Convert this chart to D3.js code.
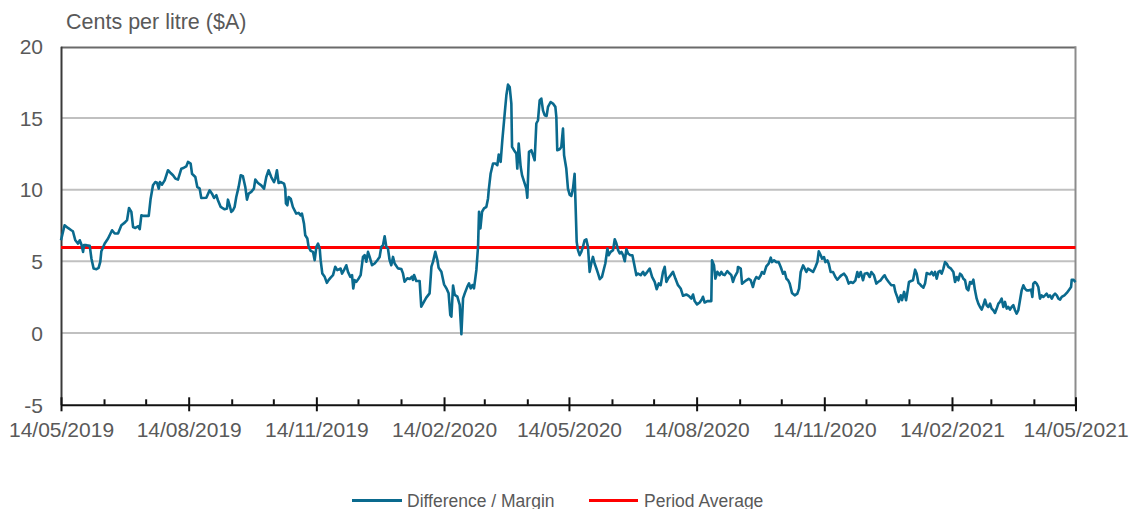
<!DOCTYPE html>
<html><head><meta charset="utf-8">
<script src="https://cdn.jsdelivr.net/npm/d3@7"></script>
<style>body{margin:0;background:#fff}svg{display:block}text{font-family:"Liberation Sans",Arial,sans-serif}</style>
</head><body>
<svg id="chart" width="1132" height="509"></svg>
<script>
// ---- data ----
const startDate = "2019-05-14";
const endDate = "2021-05-14";
const yTicks = [-5, 0, 5, 10, 15, 20];
const gridValues = [0, 5, 10, 15];
const periodAverage = 5.97;
const seriesNames = ["Difference / Margin", "Period Average"];
const yTitle = "Cents per litre ($A)";
// [days since 14/05/2019, cents per litre]
const marginPoints = [
[0,6.47],[2.6,7.52],[5.0,7.33],[7.4,7.17],[8.6,7.10],[10.3,6.47],[12.3,6.24],[13.5,6.47],[14.7,6.17],[15.9,5.66],
[16.6,6.13],[18.3,6.13],[20.7,6.08],[21.9,5.20],[23.5,4.50],[25.5,4.45],[27.1,4.55],[28.3,4.97],[29.1,5.71],[31.5,6.24],
[33.9,6.59],[36.8,7.17],[38.7,6.94],[41.1,6.94],[43.5,7.52],[45.9,7.70],[47.6,7.87],[49.0,8.72],[50.7,8.45],[51.9,7.40],
[53.6,7.33],[55.5,7.45],[56.7,7.24],[57.9,8.21],[59.6,8.17],[63.2,8.17],[64.6,9.37],[66.3,10.30],[68.0,10.53],[69.2,10.49],
[70.4,10.07],[71.3,10.53],[72.8,10.35],[74.7,10.65],[77.1,11.35],[78.8,11.18],[80.7,11.00],[82.4,10.77],[84.3,10.70],[86.7,11.46],
[88.6,11.53],[90.3,11.62],[91.5,11.93],[93.4,11.81],[94.4,11.11],[96.8,10.88],[98.2,10.19],[99.9,10.07],[101.1,9.42],[104.7,9.44],
[107.1,9.95],[108.8,9.72],[110.3,9.42],[111.9,9.61],[113.1,9.26],[115.1,8.79],[117.9,8.63],[119.6,8.68],
[120.3,9.30],[121.5,8.91],[122.7,8.45],[123.9,8.56],[125.1,8.79],[126.3,9.49],[128.0,10.19],[129.5,11.00],[131.1,10.93],[132.8,10.19],
[134.0,9.30],[135.2,9.72],[137.1,9.84],[139.0,10.07],[140.0,10.70],[141.9,10.46],[144.3,10.30],[146.3,10.07],[147.9,10.88],[149.6,11.35],
[151.5,10.88],[153.5,10.53],[154.4,10.77],[155.6,11.35],[156.8,10.46],[158.3,10.53],[160.7,10.42],[161.6,10.07],[162.1,9.03],[163.1,8.91],
[164.0,9.49],[165.5,9.37],[167.1,8.79],[169.5,8.33],[171.2,8.38],[172.7,8.21],[173.6,8.33],[175.1,7.63],[176.0,6.82],[177.5,6.59],
[178.4,6.01],[179.9,5.73],[181.6,5.66],[182.8,5.08],[184.0,6.01],[185.2,6.24],[186.4,5.89],[187.1,5.08],[188.3,4.15],[190.0,3.92],
[191.6,3.50],[192.8,3.69],[194.3,3.87],[196.0,4.04],[197.6,4.62],[199.1,4.39],[201.5,4.50],[202.5,4.15],[203.9,4.39],[205.6,4.73],
[206.8,4.27],[208.5,3.92],[209.7,4.04],[210.6,3.11],[211.6,3.69],[212.8,3.57],[214.5,3.81],[215.9,4.04],[217.6,5.31],[218.8,5.43],
[220.0,4.97],[221.2,5.66],[222.4,5.31],[224.1,4.73],[226.0,4.85],[227.9,5.08],[229.6,5.31],[230.8,6.01],[232.0,6.13],[233.2,6.75],
[234.4,6.01],[235.6,5.89],[236.8,5.08],[238.0,4.73],[239.2,5.31],[240.4,4.85],
[242.8,4.51],[245.2,4.47],[246.4,4.16],[247.6,3.58],[249.6,3.82],[251.2,3.77],[252.9,3.93],[253.6,3.70],[254.4,4.05],[256.0,3.63],
[258.4,3.63],[259.6,1.84],[261.6,2.19],[263.2,2.47],[265.6,2.77],[266.9,4.63],[268.1,4.98],[269.7,5.67],[271.2,5.09],[272.1,4.56],
[274.1,4.28],[276.0,3.40],[277.7,3.12],[279.3,2.77],[280.5,1.26],[281.3,1.15],[282.5,3.31],[283.7,2.66],[285.6,2.54],[287.3,1.96],
[288.5,-0.08],[289.7,2.42],[290.9,2.77],[292.8,3.24],[294.0,3.47],[295.2,3.12],[296.4,3.35],[297.6,3.12],[299.3,4.40],[300.5,6.02],
[301.2,8.46],[302.2,7.30],[303.4,8.46],[304.8,8.69],[306.5,8.80],[307.7,9.39],[308.2,9.97],[309.6,11.13],[311.3,11.82],[313.0,11.82],
[314.4,11.71],[315.4,12.45],[316.8,11.94],[318.0,13.45],[319.7,15.30],[320.9,16.58],[322.1,17.32],[323.3,17.16],[324.5,16.00],[325.0,12.98],
[326.4,12.75],[328.1,12.52],[328.8,11.47],[329.8,13.21],[331.2,11.59],[332.2,11.01],[334.1,10.43],[335.3,10.08],[336.0,9.43],[337.2,12.63],
[338.9,12.75],[340.1,12.40],[341.3,12.05],[342.5,14.61],[343.7,14.84],[344.9,16.23],[346.1,16.35],[347.3,15.53],[348.5,15.19],[349.9,15.14],
[350.9,15.77],[352.8,16.11],[354.5,16.00],[356.2,15.77],[356.9,15.07],[357.6,12.75],[359.3,12.82],[360.5,12.98],[361.7,14.26],[362.5,12.40],
[364.1,11.47],
[365.3,10.07],[366.5,9.65],[367.7,9.56],[368.9,10.07],[370.1,11.10],[371.6,6.36],[372.5,5.78],[373.7,5.43],[374.9,5.66],[376.1,6.01],
[377.3,6.47],[378.5,6.54],[379.7,6.01],[380.9,4.27],[382.1,4.85],[383.3,5.31],[384.5,4.85],[385.8,4.50],[387.0,4.15],[388.2,3.76],
[389.8,3.92],[391.3,4.50],[392.2,4.85],[393.7,5.89],[394.6,5.43],[396.1,5.66],[397.8,5.78],[399.0,6.54],[400.2,6.24],[401.4,5.78],
[402.6,5.55],[403.8,5.66],[405.0,5.43],[406.2,5.01],[407.4,5.85],[408.6,5.55],[410.3,5.43],[411.7,5.43],[412.9,4.85],[414.6,4.04],
[415.8,4.15],[417.7,4.04],[419.4,4.27],[420.6,4.04],[422.5,4.27],[424.2,4.50],[425.9,3.92],[427.8,3.57],[429.2,3.06],[430.7,3.46],
[432.1,3.34],[433.8,4.27],[435.0,4.62],[436.2,3.57],[437.4,3.80],[439.3,4.04],[441.0,4.27],[442.7,3.80],[444.6,3.34],[446.5,3.11],
[448.2,2.60],[450.6,2.69],[452.3,2.60],[454.2,2.41],[455.4,2.69],[456.6,2.23],[458.3,2.00],[460.2,2.13],[461.9,2.37],[462.6,2.53],
[463.8,2.13],[465.7,2.23],[468.6,2.23],[469.1,5.08],[470.5,4.73],[471.5,3.80],[472.9,4.27],[474.6,4.04],[475.8,4.27],[477.0,4.08],
[478.2,4.04],[480.1,4.32],[481.8,4.15],[483.0,4.04],[484.2,3.57],[485.4,3.92],[487.4,4.27],
[487.8,4.61],[489.8,4.49],[490.7,3.45],[492.2,3.56],[493.8,3.68],[495.5,3.79],[497.0,3.68],[498.6,3.21],[499.8,3.68],[501.0,3.91],
[502.7,3.79],[504.2,4.03],[505.1,4.26],[506.6,4.14],[508.2,4.65],[509.9,4.84],[511.4,5.26],[512.3,4.95],[513.8,5.07],[515.5,4.95],
[517.1,4.95],[518.6,4.61],[520.3,4.14],[521.5,4.26],[522.7,3.79],[523.9,3.68],[525.1,3.45],[526.7,2.80],[528.7,2.63],[530.6,2.75],
[531.8,3.10],[533.0,4.26],[534.7,4.72],[535.9,4.49],[537.1,4.26],[538.3,4.49],[540.2,4.37],[541.9,4.26],[543.6,4.61],[545.0,4.95],
[546.0,5.70],[547.4,5.42],[548.4,5.19],[549.8,5.30],[550.8,4.95],[552.2,5.07],[553.2,4.84],[554.6,4.26],[556.3,4.26],[558.0,3.91],
[559.4,3.72],[561.1,3.91],[562.3,4.03],[564.2,4.14],[565.9,3.91],[567.6,3.45],[569.0,3.56],[570.7,3.49],[572.4,3.68],[573.8,4.26],
[574.8,3.91],[576.2,4.26],[577.9,3.68],[579.1,4.14],[581.0,4.19],[582.7,3.91],[583.9,4.26],[585.8,4.03],[587.5,3.45],[588.7,3.56],
[590.6,3.68],[592.3,3.91],[593.5,4.03],[594.7,3.79],[596.4,3.56],[598.3,3.33],[600.2,3.33],[601.2,2.87],[602.6,2.52],[603.6,2.17],
[605.1,2.63],[606.0,2.29],[607.5,2.87],
[608.9,2.29],[610.1,2.98],[611.0,3.56],[612.5,3.63],[613.9,3.68],[615.4,4.42],[616.6,4.14],[617.8,3.49],[619.0,3.40],[620.2,3.26],
[621.4,3.17],[622.6,3.45],[623.8,4.19],[625.0,4.14],[626.2,4.10],[627.4,4.26],[628.6,4.03],[629.8,4.26],[631.0,3.79],[632.2,4.26],
[633.4,4.33],[634.6,4.14],[635.8,4.49],[637.0,4.95],[638.2,4.84],[639.4,4.61],[641.3,4.49],[643.0,4.26],[644.2,3.56],[645.4,3.91],
[646.6,3.68],[647.8,4.14],[649.0,4.03],[650.2,3.79],[651.4,3.68],[652.6,3.10],[653.8,2.98],[655.0,3.56],[656.2,3.45],[657.4,3.72],
[658.6,2.98],[659.8,2.40],[661.0,2.05],[662.2,1.82],[663.4,1.64],[664.6,1.94],[665.8,2.33],[667.0,1.94],[668.2,1.82],[669.4,2.05],
[670.6,1.71],[671.8,1.59],[673.0,1.40],[674.2,1.71],[675.4,2.05],[676.6,2.17],[677.8,2.40],[679.0,1.82],[680.2,2.17],[681.4,1.71],
[682.6,1.82],[683.8,1.64],[685.0,1.82],[686.2,1.94],[687.4,1.59],[688.6,1.36],[689.8,1.59],[691.0,2.29],[692.2,2.98],[693.4,3.33],
[694.6,3.10],[695.8,2.98],[697.5,2.98],[699.0,3.03],[699.9,2.52],[700.6,3.45],[701.8,3.56],[703.0,3.45],[704.2,3.21],[705.4,2.40],
[706.6,2.63],[707.8,2.52],[709.0,2.63],[710.2,2.75],[711.4,2.52],[712.6,2.63],[713.9,2.40],[715.1,2.63],[716.3,2.75],[717.5,2.63],
[718.7,2.40],[719.9,2.33],[721.1,2.52],[723.0,2.63],[724.7,2.80],[726.3,3.01],[727.8,3.21],[728.3,3.72],[729.5,3.72],[731.0,3.56]
];

// ---- chart ----
const svg = d3.select("#chart");
const parse = d3.timeParse("%Y-%m-%d");
const t0 = parse(startDate), t1 = parse(endDate);
const L = 61, R = 1075.5, T = 46.2, B = 404.8;
const x = d3.scaleTime().domain([t0, t1]).range([L, R]);
const y = d3.scaleLinear().domain([-5, 20]).range([B, T]);
const textCol = "#595959";

const majorTicks = d3.range(0, 25, 3).map(m => d3.timeMonth.offset(t0, m));
const minorTicks = d3.range(0, 25).filter(m => m % 3 !== 0).map(m => d3.timeMonth.offset(t0, m));

// gridlines
svg.append("g").selectAll("line").data(gridValues).join("line")
  .attr("x1", L).attr("x2", R).attr("y1", d => y(d)).attr("y2", d => y(d))
  .attr("stroke", "#c0c0c0").attr("stroke-width", 2);

// top & right border
svg.append("line").attr("x1", L).attr("x2", R).attr("y1", T + 1.3).attr("y2", T + 1.3)
  .attr("stroke", "#6a6a6a").attr("stroke-width", 2);
svg.append("line").attr("x1", R).attr("x2", R).attr("y1", T).attr("y2", B)
  .attr("stroke", "#8c8c8c").attr("stroke-width", 2);

// y axis
const yAxis = svg.append("g").attr("transform", `translate(${L},0)`)
  .call(d3.axisLeft(y).tickValues(yTicks).tickSize(0).tickSizeOuter(0).tickPadding(18).tickFormat(d3.format("d")));
yAxis.select(".domain").attr("stroke", "#3a3a3a").attr("stroke-width", 2);
yAxis.selectAll("text").attr("fill", textCol).style("font-size", "21px")
  .attr("dy", "0.35em").text(d => d < 0 ? "-" + Math.abs(d) : d);

// x axis minor ticks (inward)
const xMinor = svg.append("g").attr("transform", `translate(0,${B})`)
  .call(d3.axisBottom(x).tickValues(minorTicks).tickSize(-5.5).tickSizeOuter(0).tickFormat(""));
xMinor.select(".domain").remove();
xMinor.selectAll("line").attr("stroke", "#111").attr("stroke-width", 2);

// x axis major ticks (crossing)
const xMajor = svg.append("g").attr("transform", `translate(0,${B})`)
  .call(d3.axisBottom(x).tickValues(majorTicks).tickSize(6.5).tickSizeOuter(0).tickFormat(d3.timeFormat("%d/%m/%Y")));
xMajor.select(".domain").attr("stroke", "#111").attr("stroke-width", 2);
xMajor.selectAll(".tick line").attr("y1", -7.5).attr("stroke", "#111").attr("stroke-width", 2);
xMajor.selectAll("text").attr("fill", textCol).style("font-size", "21px")
  .attr("y", 32).attr("dy", 0);

// period average
svg.append("line").attr("x1", L).attr("x2", R).attr("y1", y(periodAverage)).attr("y2", y(periodAverage))
  .attr("stroke", "#ff0000").attr("stroke-width", 3);

// margin line
const line = d3.line()
  .x(d => x(d3.timeHour.offset(t0, Math.round(d[0] * 24))))
  .y(d => y(d[1]));
svg.append("path").datum(marginPoints).attr("d", line)
  .attr("fill", "none").attr("stroke", "#0a6a8e").attr("stroke-width", 2.6)
  .attr("stroke-linejoin", "round");

// y title
svg.append("text").attr("x", 66).attr("y", 29).attr("fill", textCol)
  .style("font-size", "21.5px").text(yTitle);

// legend
const legend = [
  {name: seriesNames[0], color: "#0a6a8e", x1: 352, x2: 402, tx: 407},
  {name: seriesNames[1], color: "#ff0000", x1: 589, x2: 638, tx: 644}
];
const lg = svg.append("g");
lg.selectAll("line").data(legend).join("line")
  .attr("x1", d => d.x1).attr("x2", d => d.x2).attr("y1", 500.5).attr("y2", 500.5)
  .attr("stroke", d => d.color).attr("stroke-width", 3);
lg.selectAll("text").data(legend).join("text")
  .attr("x", d => d.tx).attr("y", 506.5).attr("fill", textCol)
  .style("font-size", "17.5px").text(d => d.name);
</script>
</body></html>
